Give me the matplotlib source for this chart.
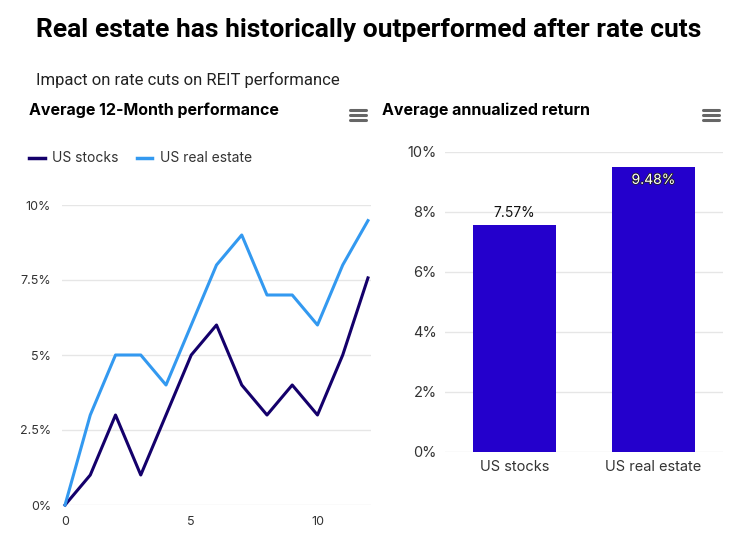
import matplotlib
matplotlib.use("Agg")
import matplotlib.pyplot as plt
import matplotlib.patheffects as pe
from matplotlib.ticker import FuncFormatter

months = list(range(13))
us_stocks = [0, 1, 3, 1, 3, 5, 6, 4, 3, 4, 3, 5, 7.57]
us_real_estate = [0, 3, 5, 5, 4, 6, 8, 9, 7, 7, 6, 8, 9.48]
bar_categories = ["US stocks", "US real estate"]
bar_values = [7.57, 9.48]
line_ticks = [0, 2.5, 5, 7.5, 10]
line_tick_labels = ["0%", "2.5%", "5%", "7.5%", "10%"]
bar_ticks = [0, 2, 4, 6, 8, 10]

W, H = 751, 552
plt.rcParams['font.family'] = ['Inter', 'DejaVu Sans']
fig = plt.figure(figsize=(W / 100, H / 100), dpi=100)
fig.patch.set_facecolor("white")

def fx(px):
    return px / W

def fy(py):
    return 1 - py / H

C_STOCK = "#14006b"
C_RE = "#3399f0"
C_BAR = "#2400cc"
GRID = "#e6e6e6"
TXT = "#333333"

fig.text(fx(36), fy(30), "Real estate has historically outperformed after rate cuts",
         fontsize=19, fontweight="bold", color="black", va="center", ha="left",
         family=["Roboto", "DejaVu Sans"])
fig.text(fx(36), fy(80), "Impact on rate cuts on REIT performance",
         fontsize=12, color="#222222", va="center", ha="left",
         family=["Roboto", "DejaVu Sans"])
fig.text(fx(29), fy(110), "Average 12-Month performance", fontsize=11.5,
         fontweight="bold", color="black", va="center", ha="left")
fig.text(fx(382), fy(110), "Average annualized return", fontsize=11.5,
         fontweight="bold", color="black", va="center", ha="left")

# hamburger icons
for cx in (358, 711):
    for dy in (-5, 0, 5):
        fig.add_artist(plt.Line2D([fx(cx - 8), fx(cx + 8)], [fy(115 + dy), fy(115 + dy)],
                                  color="#666666", lw=2.2, solid_capstyle="round"))

# legend
for x0, x1, tx, label, c in [(29, 45, 52, "US stocks", C_STOCK), (137, 152, 160, "US real estate", C_RE)]:
    fig.add_artist(plt.Line2D([fx(x0), fx(x1)], [fy(158), fy(158)], color=c, lw=2.5))
    fig.text(fx(tx), fy(158), label, fontsize=10, color=TXT, va="center", ha="left")

# line chart
ax1 = fig.add_axes([fx(62), fy(505), fx(371) - fx(62), fy(205) - fy(505)])
ax1.plot(months, us_stocks, color=C_STOCK, lw=2.2, clip_on=False, zorder=3)
ax1.plot(months, us_real_estate, color=C_RE, lw=2.2, clip_on=False, zorder=3)
ax1.set_xlim(-0.12, 12.12)
ax1.set_ylim(0, 10)
ax1.set_yticks(line_ticks)
ax1.set_yticklabels(line_tick_labels)
ax1.set_xticks([0, 5, 10])
for s in ax1.spines.values():
    s.set_visible(False)
ax1.grid(axis="y", color=GRID, lw=1)
ax1.set_axisbelow(True)
ax1.tick_params(axis="both", length=0, labelsize=9, labelcolor=TXT)
ax1.tick_params(axis="y", pad=8)
ax1.tick_params(axis="x", pad=8)

# bar chart
ax2 = fig.add_axes([fx(445), fy(451.7), fx(723) - fx(445), fy(151.7) - fy(451.7)])
bars = ax2.bar(range(len(bar_categories)), bar_values, width=0.595, color=C_BAR, zorder=3)
ax2.set_xlim(-0.5, 1.5)
ax2.set_ylim(0, 10)
ax2.set_yticks(bar_ticks)
ax2.yaxis.set_major_formatter(FuncFormatter(lambda v, p: f"{v:.0f}%"))
ax2.set_xticks(range(len(bar_categories)))
ax2.set_xticklabels(bar_categories)
for s in ax2.spines.values():
    s.set_visible(False)
ax2.grid(axis="y", color=GRID, lw=1)
ax2.set_axisbelow(True)
ax2.tick_params(axis="both", length=0, labelsize=10.5, labelcolor=TXT)
ax2.tick_params(axis="y", pad=6)
ax2.tick_params(axis="x", pad=6)

ax2.annotate(f"{bar_values[0]:.2f}%", (0, bar_values[0]), xytext=(0, 3),
             textcoords="offset points", ha="center", va="bottom", fontsize=10, color="#111111")
ax2.annotate(f"{bar_values[1]:.2f}%", (1, bar_values[1]), xytext=(0, -4),
             textcoords="offset points", ha="center", va="top", fontsize=10, color="white",
             path_effects=[pe.withStroke(linewidth=1.2, foreground="#222222")])

fig.savefig("out.png", dpi=100, facecolor="white")
